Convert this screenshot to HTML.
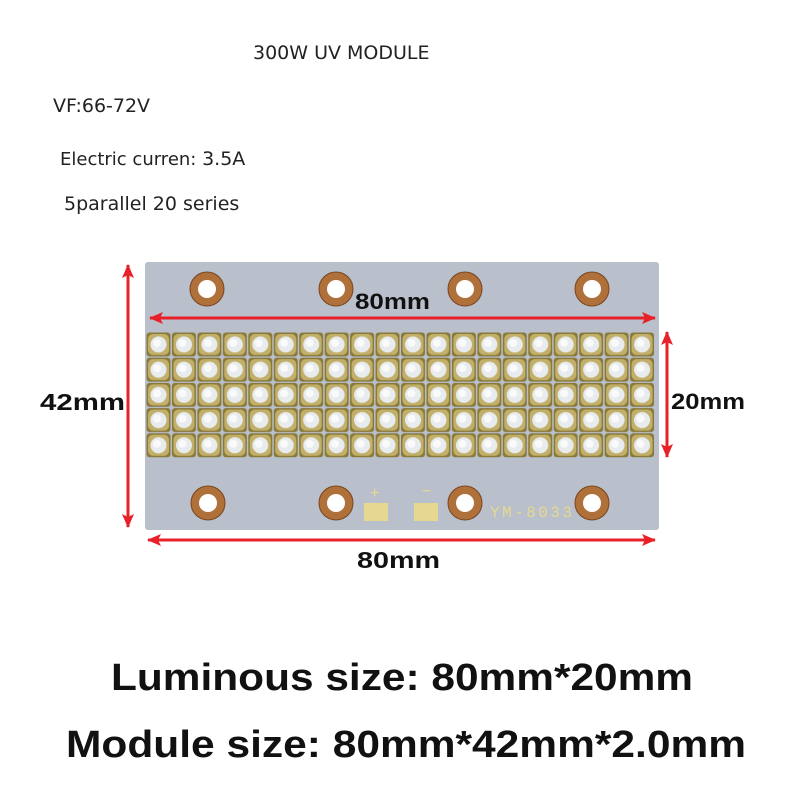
<!DOCTYPE html>
<html><head><meta charset="utf-8"><style>
body{margin:0;background:#fff;width:800px;height:800px;overflow:hidden;font-family:"Liberation Sans",sans-serif}
.t{position:absolute;color:#222;font-family:"DejaVu Sans","Liberation Sans",sans-serif;white-space:nowrap}
</style></head><body>
<div class="t" style="left:253px;top:42px;font-size:19px">300W UV MODULE</div>
<div class="t" style="left:53px;top:95px;font-size:19px">VF:66-72V</div>
<div class="t" style="left:60px;top:148px;font-size:18px">Electric curren: <span style="font-size:19px">3.5A</span></div>
<div class="t" style="left:64px;top:193px;font-size:19px">5parallel 20 series</div>
<svg width="800" height="800" style="position:absolute;left:0;top:0">
<defs>
<pattern id="led" x="146" y="332" width="25.45" height="25.2" patternUnits="userSpaceOnUse">
<rect x="0.5" y="0.5" width="24" height="24" rx="3" fill="#8a7a3a"/>
<rect x="2" y="2" width="21" height="21" rx="5" fill="#c2b06a"/>
<circle cx="12.5" cy="12.5" r="8" fill="#e8ecef"/>
<circle cx="11" cy="11" r="4" fill="#fafafa"/>
</pattern>
<marker id="ah" markerWidth="14" markerHeight="12" refX="13" refY="6" orient="auto-start-reverse" markerUnits="userSpaceOnUse"><path d="M0,0 L14,6 L0,12 L3,6 Z" fill="#e8202a"/></marker>
</defs>
<rect x="145" y="262" width="514" height="268" rx="3" fill="#b9c0cc"/>
<rect x="146" y="332" width="509" height="126" fill="url(#led)"/>
<g fill="#b0703a" stroke="#7a4420" stroke-width="1">
<circle cx="207" cy="289" r="17"/><circle cx="336" cy="289" r="17"/><circle cx="465" cy="289" r="17"/><circle cx="592" cy="289" r="17"/>
<circle cx="208" cy="503" r="17"/><circle cx="336" cy="503" r="17"/><circle cx="465" cy="503" r="17"/><circle cx="592" cy="503" r="17"/>
</g>
<g fill="#fff">
<circle cx="207" cy="289" r="9"/><circle cx="336" cy="289" r="9"/><circle cx="465" cy="289" r="9"/><circle cx="592" cy="289" r="9"/>
<circle cx="208" cy="503" r="9"/><circle cx="336" cy="503" r="9"/><circle cx="465" cy="503" r="9"/><circle cx="592" cy="503" r="9"/>
</g>
<rect x="364" y="503" width="24" height="18" fill="#e6d890"/>
<rect x="414" y="503" width="24" height="18" fill="#e6d890"/>
<text x="370" y="498" fill="#e6d890" font-size="16" font-family="Liberation Sans">+</text>
<text x="422" y="496" fill="#e6d890" font-size="16" font-family="Liberation Sans">−</text>
<text x="490" y="517" fill="#e6d890" font-size="16" font-family="Liberation Mono" textLength="82">YM-8033</text>
<g stroke="#e8202a" stroke-width="3" fill="none">
<line x1="150" y1="318" x2="655" y2="318" marker-start="url(#ah)" marker-end="url(#ah)"/>
<line x1="148" y1="540" x2="655" y2="540" marker-start="url(#ah)" marker-end="url(#ah)"/>
<line x1="128" y1="265" x2="128" y2="527" marker-start="url(#ah)" marker-end="url(#ah)"/>
<line x1="667" y1="332" x2="667" y2="457" marker-start="url(#ah)" marker-end="url(#ah)"/>
</g>
<g font-family="Liberation Sans" font-weight="bold" fill="#111">
<text x="355" y="309" font-size="22" textLength="75" lengthAdjust="spacingAndGlyphs">80mm</text>
<text x="357" y="568" font-size="23" textLength="83" lengthAdjust="spacingAndGlyphs">80mm</text>
<text x="40" y="410" font-size="23" textLength="85" lengthAdjust="spacingAndGlyphs">42mm</text>
<text x="671" y="409" font-size="22" textLength="74" lengthAdjust="spacingAndGlyphs">20mm</text>
<text x="111" y="690" font-size="38" textLength="582" lengthAdjust="spacingAndGlyphs">Luminous size: 80mm*20mm</text>
<text x="66" y="757" font-size="38" textLength="680" lengthAdjust="spacingAndGlyphs">Module size: 80mm*42mm*2.0mm</text>
</g>
</svg>
</body></html>
